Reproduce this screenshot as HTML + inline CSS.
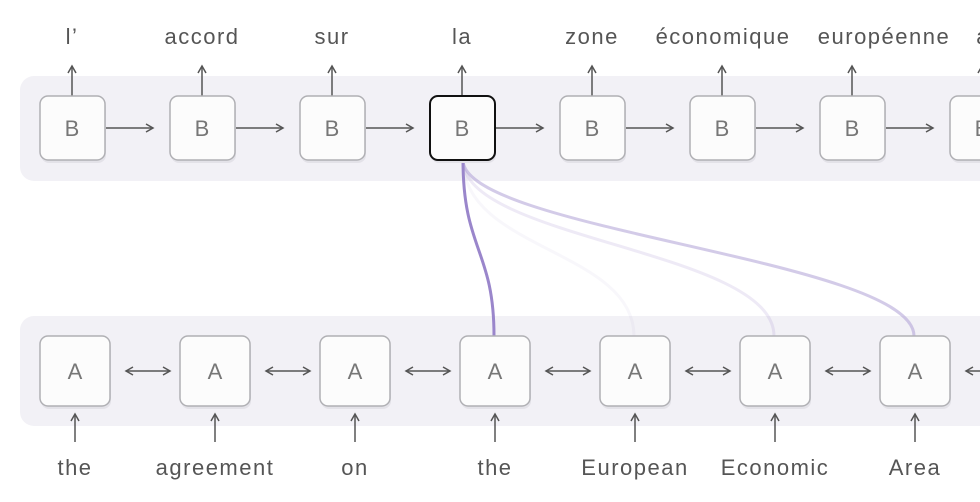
<!DOCTYPE html>
<html><head><meta charset="utf-8"><style>
html,body{margin:0;padding:0;background:#fff;width:980px;height:502px;overflow:hidden}
svg text{font-family:"Liberation Sans",sans-serif}
.lbl{font-size:22px;fill:#555;text-anchor:middle;letter-spacing:1.5px}
.bx{font-size:22px;fill:#777;text-anchor:middle}
</style></head><body>
<svg width="980" height="502" viewBox="0 0 980 502" xmlns="http://www.w3.org/2000/svg">
<defs>
<marker id="ah" markerWidth="10" markerHeight="10" refX="8" refY="5" orient="auto-start-reverse" markerUnits="userSpaceOnUse">
<path d="M1,1 L8,5 L1,9" fill="none" stroke="#555" stroke-width="1.5"/>
</marker>
</defs>
<rect x="20" y="76" width="1000" height="105" rx="14" fill="#f2f1f6"/>
<rect x="20" y="316" width="1000" height="110" rx="14" fill="#f2f1f6"/>

<g fill="none" stroke-linecap="round">
<path d="M463,160 C463,250 634,250 634,336" stroke="#a898d2" stroke-opacity="0.08" stroke-width="3"/>
<path d="M463,160 C463,240 774,250 774,336" stroke="#a898d2" stroke-opacity="0.2" stroke-width="3"/>
<path d="M463,160 C463,230 914,260 914,336" stroke="#a898d2" stroke-opacity="0.5" stroke-width="3"/>
<path d="M463,160 C463,250 494,250 494,336" stroke="#9a86cb" stroke-width="3"/>
</g>

<g>
<text x="72" y="44" class="lbl">l’</text>
<text x="202" y="44" class="lbl">accord</text>
<text x="332" y="44" class="lbl">sur</text>
<text x="462" y="44" class="lbl">la</text>
<text x="592" y="44" class="lbl">zone</text>
<text x="723" y="44" class="lbl">économique</text>
<text x="884" y="44" class="lbl">européenne</text>
<text x="990" y="44" class="lbl">au</text>
</g>

<g stroke="#555" stroke-width="1.5" marker-end="url(#ah)">
<line x1="72" y1="96" x2="72" y2="66"/><line x1="202" y1="96" x2="202" y2="66"/>
<line x1="332" y1="96" x2="332" y2="66"/><line x1="462" y1="96" x2="462" y2="66"/>
<line x1="592" y1="96" x2="592" y2="66"/><line x1="722" y1="96" x2="722" y2="66"/>
<line x1="852" y1="96" x2="852" y2="66"/><line x1="982" y1="96" x2="982" y2="66"/>
<line x1="105" y1="128" x2="153" y2="128"/><line x1="235" y1="128" x2="283" y2="128"/>
<line x1="365" y1="128" x2="413" y2="128"/><line x1="495" y1="128" x2="543" y2="128"/>
<line x1="625" y1="128" x2="673" y2="128"/><line x1="755" y1="128" x2="803" y2="128"/>
<line x1="885" y1="128" x2="933" y2="128"/>
</g>

<g>
<g fill="#e3e2e8"><rect x="41" y="99" width="65" height="64" rx="8"/><rect x="171" y="99" width="65" height="64" rx="8"/><rect x="301" y="99" width="65" height="64" rx="8"/><rect x="431" y="99" width="65" height="64" rx="8"/><rect x="561" y="99" width="65" height="64" rx="8"/><rect x="691" y="99" width="65" height="64" rx="8"/><rect x="821" y="99" width="65" height="64" rx="8"/><rect x="951" y="99" width="65" height="64" rx="8"/></g>
<g fill="#fcfcfc" stroke="#b0b0b4" stroke-width="1.5">
<rect x="40" y="96" width="65" height="64" rx="8"/><rect x="170" y="96" width="65" height="64" rx="8"/>
<rect x="300" y="96" width="65" height="64" rx="8"/>
<rect x="560" y="96" width="65" height="64" rx="8"/><rect x="690" y="96" width="65" height="64" rx="8"/>
<rect x="820" y="96" width="65" height="64" rx="8"/><rect x="950" y="96" width="65" height="64" rx="8"/>
</g>
<rect x="430" y="96" width="65" height="64" rx="8" fill="#fcfcfc" stroke="#111" stroke-width="2"/>
</g>
<g>
<text x="72" y="136" class="bx">B</text><text x="202" y="136" class="bx">B</text><text x="332" y="136" class="bx">B</text><text x="462" y="136" class="bx">B</text><text x="592" y="136" class="bx">B</text><text x="722" y="136" class="bx">B</text><text x="852" y="136" class="bx">B</text><text x="982" y="136" class="bx">B</text>
</g>

<g stroke="#555" stroke-width="1.5" marker-end="url(#ah)">
<line x1="75" y1="442" x2="75" y2="414"/><line x1="215" y1="442" x2="215" y2="414"/>
<line x1="355" y1="442" x2="355" y2="414"/><line x1="495" y1="442" x2="495" y2="414"/>
<line x1="635" y1="442" x2="635" y2="414"/><line x1="775" y1="442" x2="775" y2="414"/>
<line x1="915" y1="442" x2="915" y2="414"/>
</g>
<g stroke="#555" stroke-width="1.5" marker-end="url(#ah)" marker-start="url(#ah)">
<line x1="126" y1="371" x2="170" y2="371"/><line x1="266" y1="371" x2="310" y2="371"/>
<line x1="406" y1="371" x2="450" y2="371"/><line x1="546" y1="371" x2="590" y2="371"/>
<line x1="686" y1="371" x2="730" y2="371"/><line x1="826" y1="371" x2="870" y2="371"/>
<line x1="966" y1="371" x2="1010" y2="371"/>
</g>

<g fill="#e3e2e8"><rect x="41" y="339" width="70" height="70" rx="8"/><rect x="181" y="339" width="70" height="70" rx="8"/><rect x="321" y="339" width="70" height="70" rx="8"/><rect x="461" y="339" width="70" height="70" rx="8"/><rect x="601" y="339" width="70" height="70" rx="8"/><rect x="741" y="339" width="70" height="70" rx="8"/><rect x="881" y="339" width="70" height="70" rx="8"/></g>
<g fill="#fcfcfc" stroke="#b0b0b4" stroke-width="1.5">
<rect x="40" y="336" width="70" height="70" rx="8"/><rect x="180" y="336" width="70" height="70" rx="8"/>
<rect x="320" y="336" width="70" height="70" rx="8"/><rect x="460" y="336" width="70" height="70" rx="8"/>
<rect x="600" y="336" width="70" height="70" rx="8"/><rect x="740" y="336" width="70" height="70" rx="8"/>
<rect x="880" y="336" width="70" height="70" rx="8"/>
</g>
<g>
<text x="75" y="379" class="bx">A</text><text x="215" y="379" class="bx">A</text><text x="355" y="379" class="bx">A</text><text x="495" y="379" class="bx">A</text><text x="635" y="379" class="bx">A</text><text x="775" y="379" class="bx">A</text><text x="915" y="379" class="bx">A</text>
</g>

<g>
<text x="75" y="475" class="lbl">the</text>
<text x="215" y="475" class="lbl">agreement</text>
<text x="355" y="475" class="lbl">on</text>
<text x="495" y="475" class="lbl">the</text>
<text x="635" y="475" class="lbl">European</text>
<text x="775" y="475" class="lbl">Economic</text>
<text x="915" y="475" class="lbl">Area</text>
</g>
</svg>
</body></html>
